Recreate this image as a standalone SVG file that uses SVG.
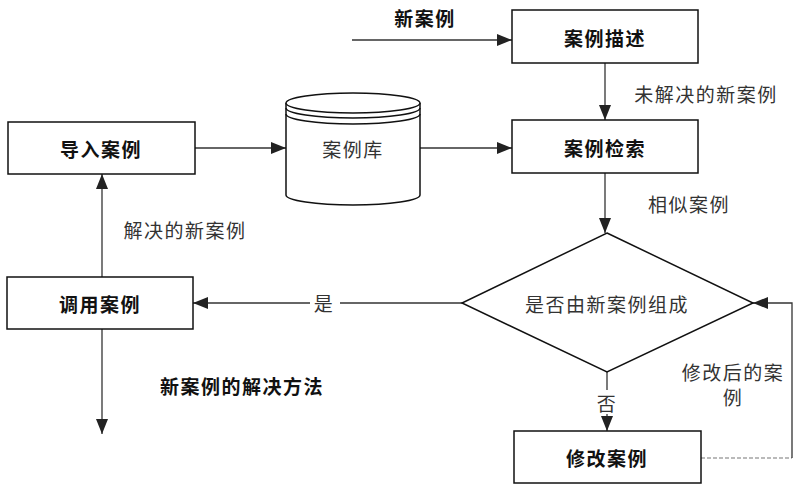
<svg xmlns="http://www.w3.org/2000/svg" width="800" height="491" viewBox="0 0 800 491">
<defs>
<marker id="ah" markerUnits="userSpaceOnUse" markerWidth="16" markerHeight="12" refX="15" refY="6" orient="auto">
<path d="M0,0 L15,6 L0,12 Z" fill="#222"/>
</marker>
</defs>
<style>
.box{fill:#fff;stroke:#111;stroke-width:1.5}
.ln{fill:none;stroke:#333;stroke-width:1.3}
.b{font-family:"Noto Sans CJK SC","Noto Sans CJK JP",sans-serif;font-weight:bold;font-size:19px;fill:#111;text-anchor:middle;dominant-baseline:central;letter-spacing:1.5px}
.r{font-family:"Noto Sans CJK SC","Noto Sans CJK JP",sans-serif;font-size:19px;fill:#333;text-anchor:middle;dominant-baseline:central;letter-spacing:1.5px}
</style>
<rect width="800" height="491" fill="#fff"/>
<g id="connectors">
<line class="ln" x1="352" y1="40" x2="512" y2="40" marker-end="url(#ah)"/>
<line class="ln" x1="605" y1="63" x2="605" y2="120" marker-end="url(#ah)"/>
<line class="ln" x1="195" y1="148" x2="286" y2="148" marker-end="url(#ah)"/>
<line class="ln" x1="420" y1="148" x2="512" y2="148" marker-end="url(#ah)"/>
<line class="ln" x1="605" y1="173" x2="605" y2="233" marker-end="url(#ah)"/>
<line class="ln" x1="462" y1="303" x2="340" y2="303"/>
<line class="ln" x1="310" y1="303" x2="193" y2="303" marker-end="url(#ah)"/>
<line class="ln" x1="102" y1="277" x2="102" y2="174" marker-end="url(#ah)"/>
<line class="ln" x1="102" y1="329" x2="102" y2="434" marker-end="url(#ah)"/>
<line class="ln" x1="607" y1="372" x2="607" y2="390"/>
<line class="ln" x1="607" y1="414" x2="607" y2="431" marker-end="url(#ah)"/>
<line x1="701" y1="458" x2="792" y2="458" stroke="#777" stroke-width="1.2" stroke-dasharray="4,2"/>
<polyline class="ln" points="792,458 792,303 753,303" marker-end="url(#ah)"/>
</g>
<g id="label-new"><text class="b" x="425" y="17">新案例</text></g>
<g id="node-desc"><rect class="box" x="512" y="10" width="186" height="53"/><text class="b" x="605" y="37">案例描述</text></g>
<g id="label-unsolved"><text class="r" x="706" y="93">未解决的新案例</text></g>
<g id="node-retrieve"><rect class="box" x="512" y="120" width="186" height="53"/><text class="b" x="605" y="147">案例检索</text></g>
<g id="label-similar"><text class="r" x="689" y="203">相似案例</text></g>
<g id="node-import"><rect class="box" x="8" y="122" width="187" height="52"/><text class="b" x="101" y="148">导入案例</text></g>
<g id="node-db">
<path class="box" d="M286,103 L286,195 A67,10 0 0 0 420,195 L420,103"/>
<ellipse class="box" cx="353" cy="103" rx="67" ry="10"/>
<path class="box" fill="none" d="M286,108 A67,10 0 0 0 420,108" style="fill:none"/>
<path class="box" d="M286,114 A67,10 0 0 0 420,114" style="fill:none"/>
<text class="r" x="353" y="148">案例库</text>
</g>
<g id="label-solved"><text class="r" x="185" y="229">解决的新案例</text></g>
<g id="node-call"><rect class="box" x="7" y="277" width="186" height="52"/><text class="b" x="100" y="303">调用案例</text></g>
<g id="label-yes"><text class="r" x="324" y="302">是</text></g>
<g id="node-decision"><polygon class="box" points="607,233 753,303 607,372 462,303"/><text class="r" x="607" y="303">是否由新案例组成</text></g>
<g id="label-method"><text class="b" x="242" y="385">新案例的解决方法</text></g>
<g id="label-no"><text class="r" x="607" y="402">否</text></g>
<g id="label-modified"><text class="r" x="733" y="371">修改后的案</text><text class="r" x="733" y="396">例</text></g>
<g id="node-modify"><rect class="box" x="514" y="431" width="187" height="52"/><text class="b" x="607" y="457">修改案例</text></g>
</svg>
